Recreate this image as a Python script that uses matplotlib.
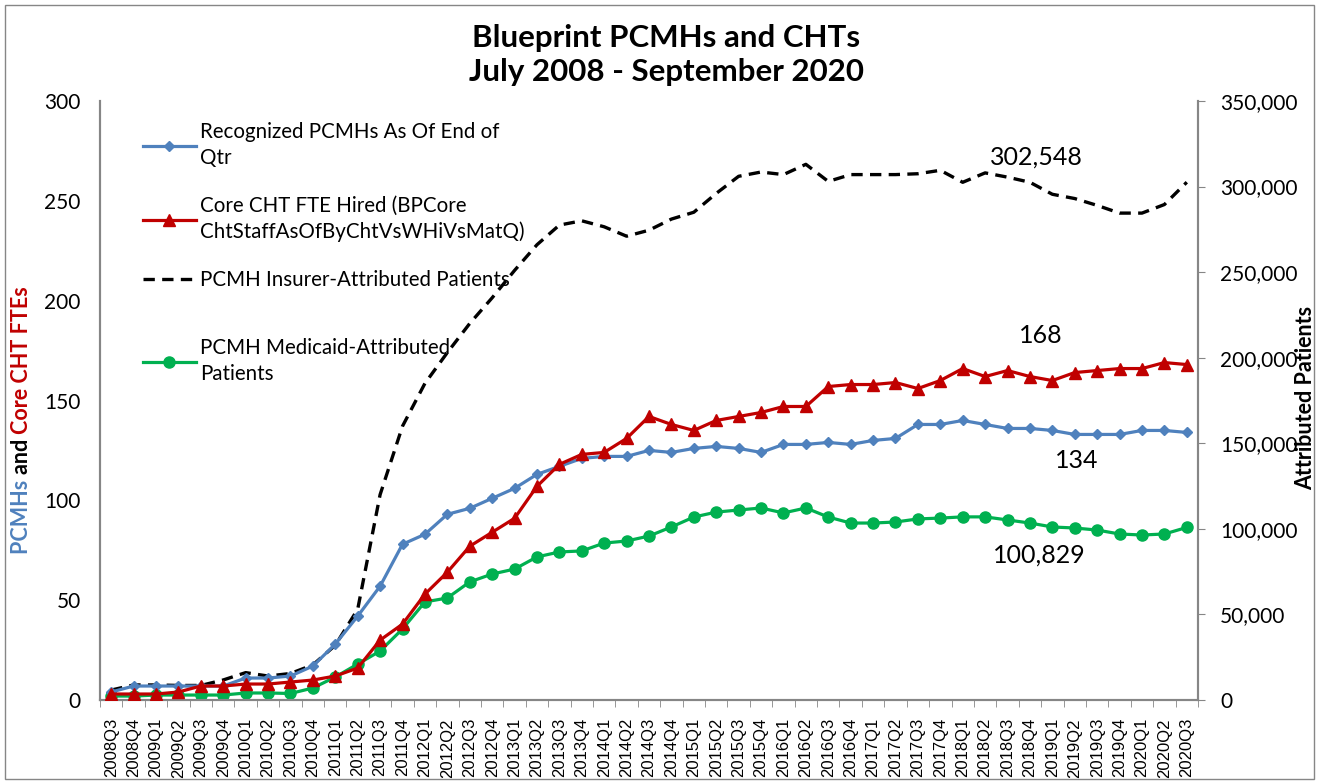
import numpy as np
import matplotlib.pyplot as plt
from matplotlib.ticker import FuncFormatter, MultipleLocator
from matplotlib.patches import Rectangle

# quarters 2008Q3 .. 2020Q3
quarters = ['2008Q3', '2008Q4'] + ['%dQ%d' % (y, q) for y in range(2009, 2020) for q in range(1, 5)] \
    + ['2020Q1', '2020Q2', '2020Q3']

pcmhs = [4, 7, 7, 7, 7, 7, 11, 11, 12, 17, 28, 42, 57, 78, 83, 93, 96, 101, 106, 113,
         117, 121, 122, 122, 125, 124, 126, 127, 126, 124, 128, 128, 129, 128, 130, 131,
         138, 138, 140, 138, 136, 136, 135, 133, 133, 133, 135, 135, 134]

cht_fte = [3, 3, 3, 4, 7, 7, 8, 8, 9, 10, 12, 16, 30, 38, 53, 64, 77, 84, 91, 107,
           118, 123, 124, 131, 142, 138, 135, 140, 142, 144, 147, 147, 157, 158, 158, 159,
           156, 160, 166, 162, 165, 162, 160, 164, 165, 166, 166, 169, 168]

insurer_pts = [5800, 8800, 8800, 8500, 8500, 11700, 16000, 14000, 15500, 20500, 32000, 53000,
               120000, 160000, 185000, 203000, 220000, 235000, 251000, 266000, 277500, 280000,
               276500, 271000, 274500, 281000, 285000, 296000, 306000, 308500, 307000, 313000,
               303000, 307000, 307000, 307000, 307500, 309500, 302500, 308000, 305500, 302500,
               295500, 293000, 289000, 284500, 284500, 289500, 302548]

medicaid_pts = [2300, 2300, 2900, 2900, 2900, 2900, 4100, 4100, 3800, 7000, 13400, 21000,
                28600, 41500, 57300, 59600, 69000, 73600, 76500, 83600, 86500, 87100, 91700,
                92900, 95800, 101100, 106900, 109800, 111000, 112200, 109300, 112200, 106900,
                103400, 103400, 104000, 105800, 106300, 107000, 107000, 105200, 103400, 101100,
                100500, 99300, 97000, 96400, 97000, 100829]

labels = ['Recognized PCMHs As Of End of\nQtr',
          'Core CHT FTE Hired (BPCore\nChtStaffAsOfByChtVsWHiVsMatQ)',
          'PCMH Insurer-Attributed Patients',
          'PCMH Medicaid-Attributed\nPatients']

BLUE = '#4F81BD'
RED = '#C00000'
GREEN = '#00B050'
GRAY = '#868686'

plt.rcParams['font.family'] = ['Lato', 'DejaVu Sans']

fig = plt.figure(figsize=(13.19, 7.84), dpi=100)
ax = fig.add_axes([100 / 1319, 1 - 700 / 784, 1098 / 1319, 599 / 784])
ax2 = ax.twinx()

x = np.arange(len(quarters))

l1, = ax.plot(x, pcmhs, color=BLUE, lw=2.3, marker='D', ms=5, zorder=3)
l2, = ax.plot(x, cht_fte, color=RED, lw=2.3, marker='^', ms=8, zorder=3)
l3, = ax2.plot(x, insurer_pts, color='black', lw=2.4, ls=(0, (3.4, 2.2)), zorder=2)
l4, = ax2.plot(x, medicaid_pts, color=GREEN, lw=2.3, marker='o', ms=8, zorder=2)

ax.set_zorder(ax2.get_zorder() + 1)
ax.patch.set_visible(False)

ax.set_xlim(-0.5, len(quarters) - 0.5)
ax.set_ylim(0, 300)
ax2.set_ylim(0, 350000)
ax.yaxis.set_major_locator(MultipleLocator(50))
ax2.yaxis.set_major_locator(MultipleLocator(50000))
ax2.yaxis.set_major_formatter(FuncFormatter(lambda v, p: '{:,.0f}'.format(v)))

ax.set_xticks(x)
ax.set_xticklabels(quarters, rotation=90, fontsize=12, family='Liberation Sans')
ax.set_xticks(np.arange(-0.5, len(quarters)), minor=True)
ax.tick_params(axis='x', which='major', length=0, pad=13)
ax.tick_params(axis='x', which='minor', length=5, color=GRAY, direction='out')
ax.tick_params(axis='y', length=0, labelsize=15, pad=14)
ax2.tick_params(axis='y', length=5, color=GRAY, labelsize=15, pad=11)

for a in (ax, ax2):
    a.spines['top'].set_visible(False)
    for s in ('left', 'right', 'bottom'):
        a.spines[s].set_color(GRAY)
        a.spines[s].set_linewidth(1.5)

fig.text(1306 / 1319, 1 - 398 / 784, 'Attributed Patients', rotation=90, ha='center', va='center',
         fontsize=15.5, fontweight='bold')

fig.text(0.505, 1 - 38 / 784, 'Blueprint PCMHs and CHTs', ha='center', va='center',
         fontsize=22.5, fontweight='bold')
fig.text(0.505, 1 - 72 / 784, 'July 2008 - September 2020', ha='center', va='center',
         fontsize=22.5, fontweight='bold')

leg_kw = dict(loc='upper left', frameon=False, fontsize=14.8, handlelength=2.6,
              handletextpad=0.2, borderaxespad=0.5)
leg = ax.legend([l1, l2, l3], labels[:3], bbox_to_anchor=(0.022, 0.995), labelspacing=1.35, **leg_kw)
for t in leg.get_texts():
    t.set_linespacing(1.35)
ax.add_artist(leg)
leg2 = ax.legend([l4], labels[3:], bbox_to_anchor=(0.022, 0.635), **leg_kw)
for t in leg2.get_texts():
    t.set_linespacing(1.35)

# value labels
ax2.text(41.3, 317000, '302,548', fontsize=18, ha='center', va='center')
ax.text(41.5, 182.5, '168', fontsize=18, ha='center', va='center')
ax.text(43.1, 120, '134', fontsize=18, ha='center', va='center')
ax2.text(41.4, 84700, '100,829', fontsize=18, ha='center', va='center')

# multi-coloured left axis label
parts = [('PCMHs ', BLUE), ('and ', 'black'), ('Core CHT FTEs', RED)]
renderer = fig.canvas.get_renderer()
texts = []
total = 0
for s, c in parts:
    t = fig.text(22 / 1319, 0, s, rotation=90, color=c, fontsize=15.5, fontweight='bold',
                 ha='center', va='bottom')
    h = t.get_window_extent(renderer).height / fig.bbox.height
    texts.append((t, h))
    total += h
ypos = (1 - 420 / 784) - total / 2
for t, h in texts:
    t.set_y(ypos)
    ypos += h

fig.patches.append(Rectangle((5 / 1319, 5 / 784), 1 - 10 / 1319, 1 - 10 / 784,
                             transform=fig.transFigure, fill=False, ec=GRAY, lw=1))

fig.savefig('out.png', dpi=100)
